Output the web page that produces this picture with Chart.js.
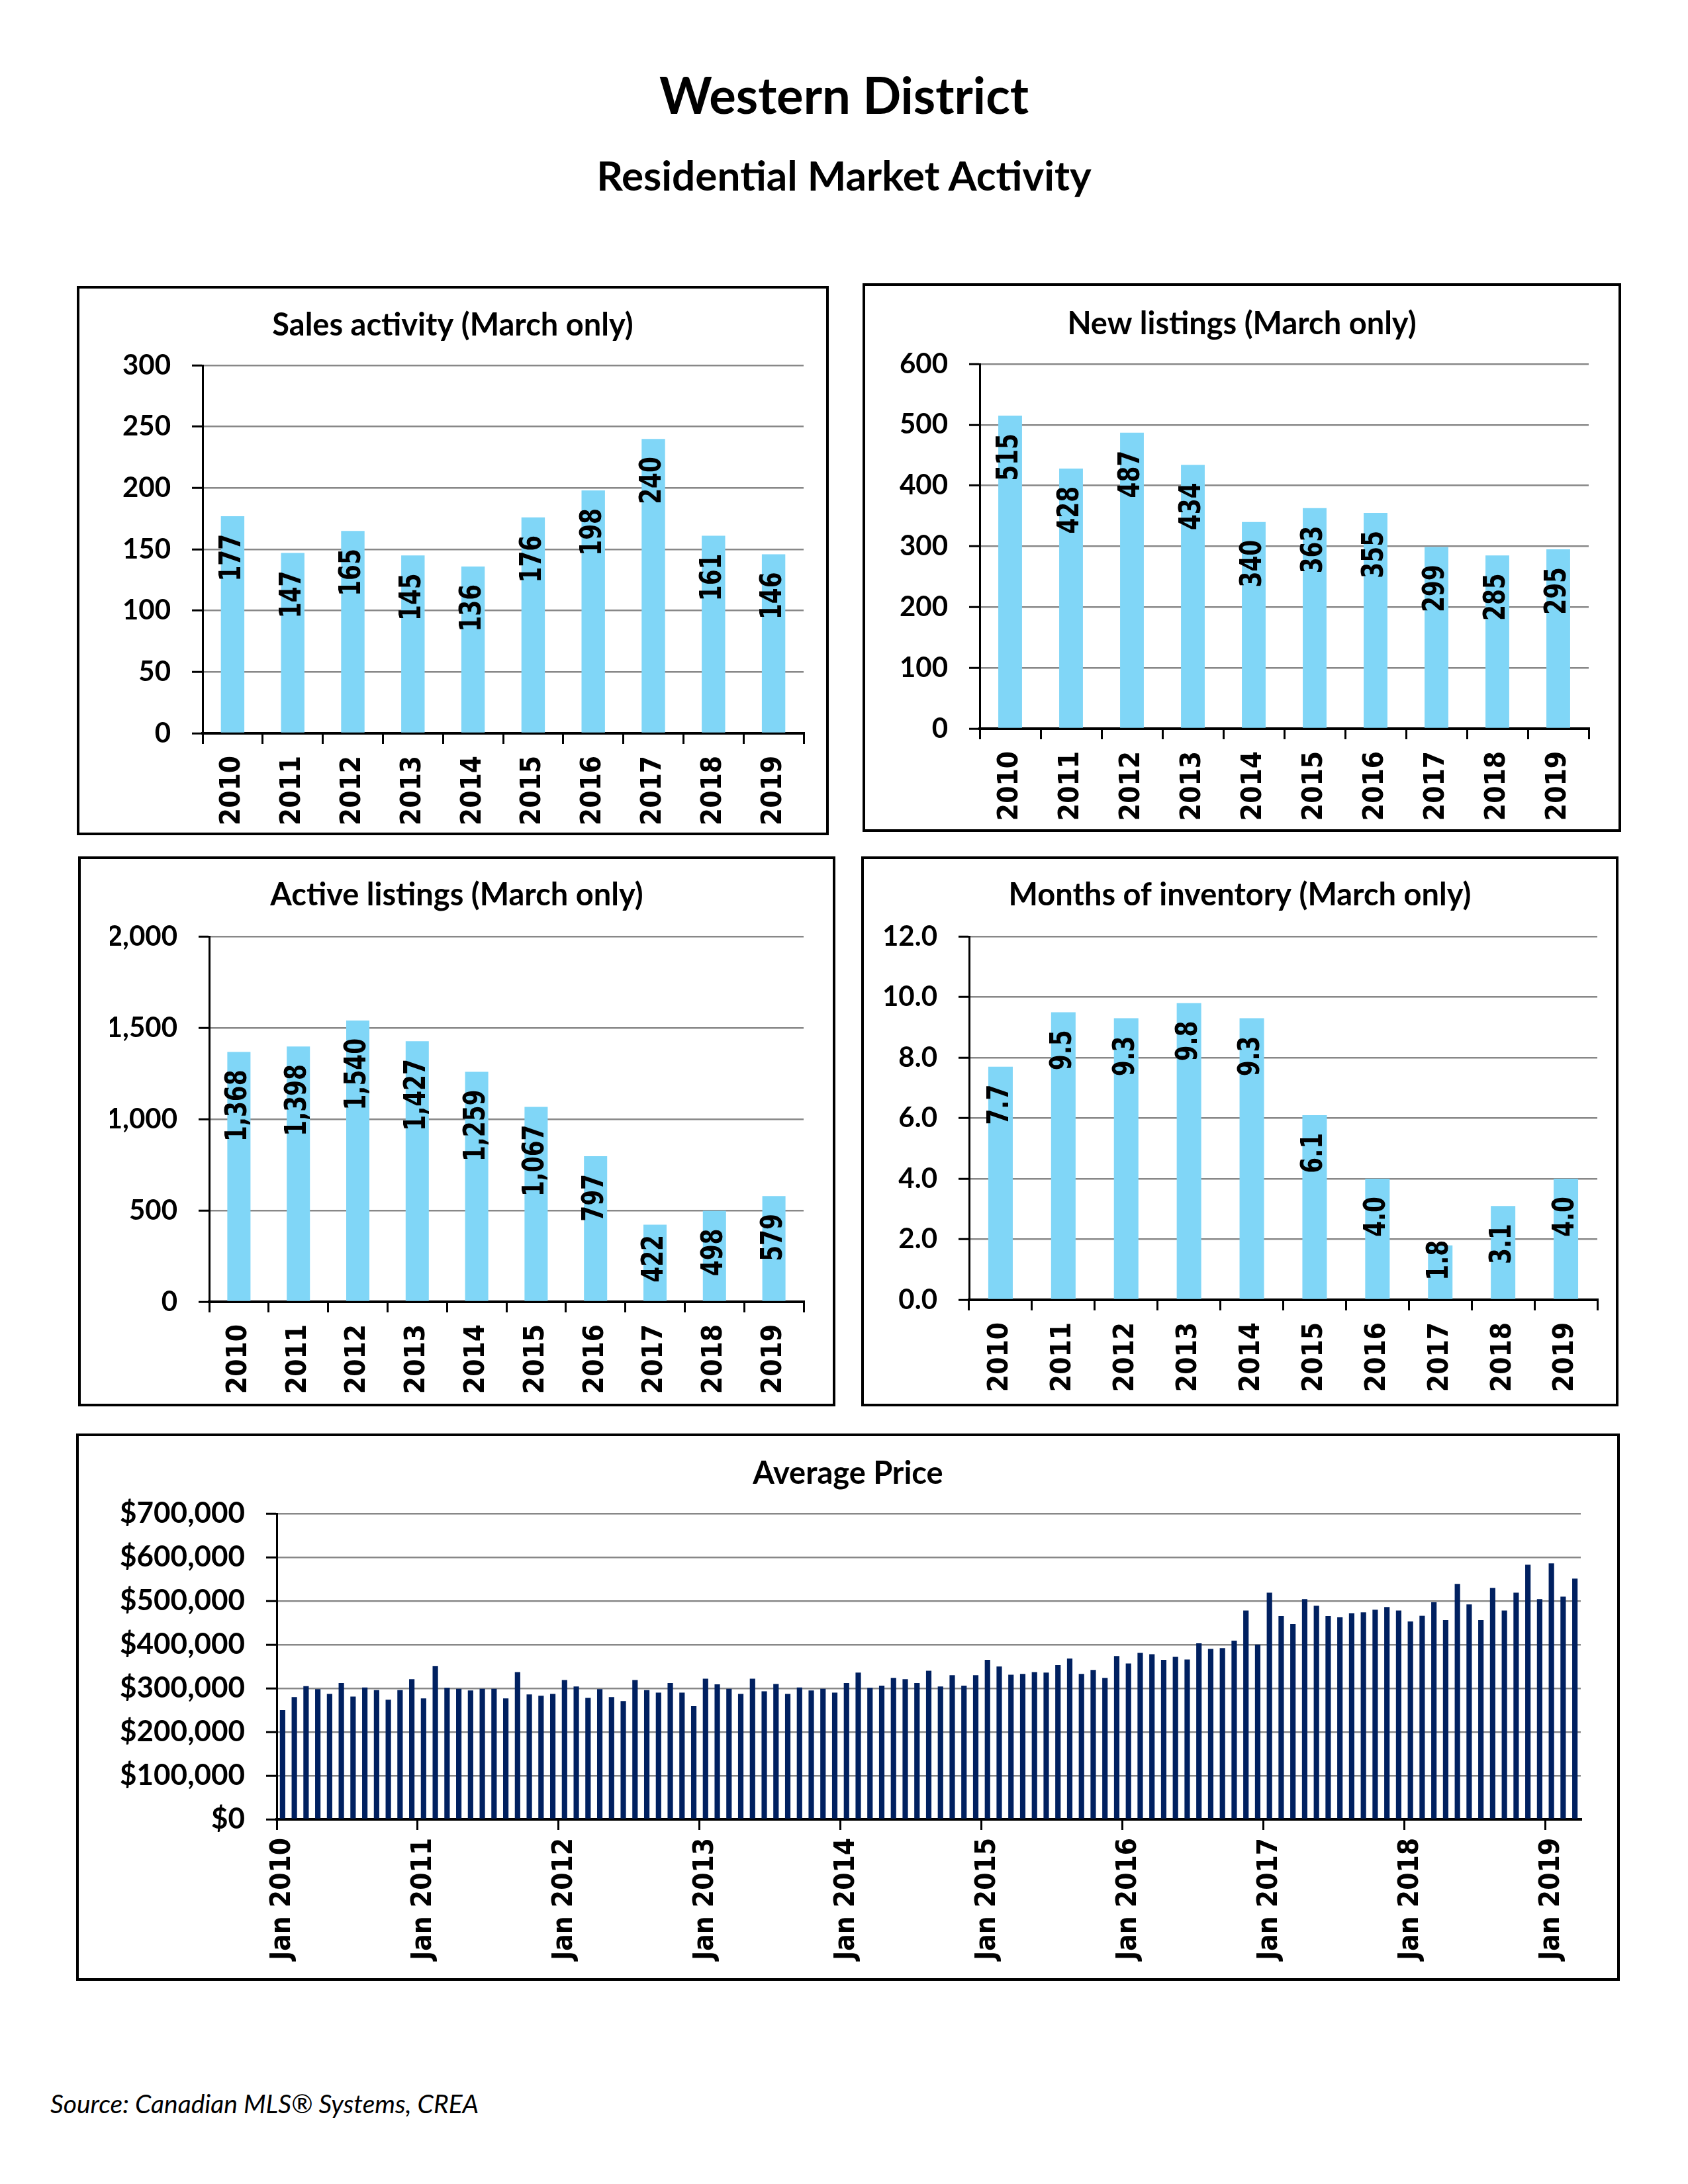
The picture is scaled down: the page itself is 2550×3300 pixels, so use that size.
<!DOCTYPE html>
<html>
<head>
<meta charset="utf-8">
<title>Western District - Residential Market Activity</title>
<script src="https://cdn.jsdelivr.net/npm/chart.js@4.4.1/dist/chart.umd.min.js"></script>
<style>
  html, body { margin: 0; padding: 0; background: #fff; }
  body { width: 2550px; height: 3300px; position: relative; overflow: hidden; font-family: Lato, sans-serif; color: #000; }
  .head { position: absolute; left: 0; width: 2550px; text-align: center; font-weight: 700; line-height: 1.2; }
  .panel { position: absolute; border: 4px solid #000; box-sizing: border-box; background: #fff; }
  .panel canvas { position: absolute; left: 0; top: 0; }
  .source { position: absolute; left: 76px; font-style: italic; font-size: 39px; line-height: 1.2; }
</style>
</head>
<body>
<div class="head" style="top:97px;font-size:76px">Western District</div>
<div class="head" style="top:227px;font-size:62px">Residential Market Activity</div>

<div id="sales" class="panel"></div>
<div id="newListings" class="panel"></div>
<div id="active" class="panel"></div>
<div id="inventory" class="panel"></div>
<div id="price" class="panel"></div>

<div class="source" style="top:3155px">Source: Canadian MLS® Systems, CREA</div>

<script>
// Données (mars seulement)
const years = ['2010', '2011', '2012', '2013', '2014', '2015', '2016', '2017', '2018', '2019'];
const salesActivity = [177, 147, 165, 145, 136, 176, 198, 240, 161, 146];
const newListings = [515, 428, 487, 434, 340, 363, 355, 299, 285, 295];
const activeListings = [1368, 1398, 1540, 1427, 1259, 1067, 797, 422, 498, 579];
const monthsOfInventory = [7.7, 9.5, 9.3, 9.8, 9.3, 6.1, 4.0, 1.8, 3.1, 4.0];

// Prix moyen mensuel, janv. 2010 a mars 2019
const monthNames = ['Jan', 'Feb', 'Mar', 'Apr', 'May', 'Jun', 'Jul', 'Aug', 'Sep', 'Oct', 'Nov', 'Dec'];
const averagePrice = [
  250000, 280000, 305000, 298000, 287000, 312000, 281000, 302000, 296000, 274000, 296000, 321000,
  277000, 351000, 301000, 299000, 295000, 299000, 299000, 277000, 337000, 286000, 283000, 287000,
  319000, 304000, 278000, 298000, 280000, 271000, 319000, 296000, 290000, 312000, 290000, 259000,
  322000, 309000, 299000, 287000, 322000, 293000, 310000, 287000, 302000, 295000, 299000, 290000,
  312000, 336000, 301000, 306000, 324000, 321000, 312000, 340000, 304000, 330000, 306000, 330000,
  365000, 350000, 331000, 333000, 337000, 336000, 353000, 368000, 333000, 342000, 324000, 374000,
  357000, 381000, 378000, 365000, 372000, 366000, 403000, 390000, 392000, 409000, 478000, 400000,
  519000, 465000, 447000, 504000, 489000, 465000, 463000, 472000, 474000, 480000, 486000, 478000,
  453000, 466000, 497000, 456000, 539000, 492000, 456000, 530000, 478000, 519000, 583000, 504000,
  586000, 510000, 551000
];
const priceLabels = [];
years.forEach(y => monthNames.forEach(m => priceLabels.push(m + ' ' + y)));
priceLabels.length = averagePrice.length;

const LIGHT_BLUE = '#80D6F7';
const NAVY = '#002060';
const GRID_GREY = '#888888';
const LABEL_FONT = '"DejaVu Sans Condensed", "DejaVu Sans"';

// Étiquettes de valeur verticales, à l'intérieur du haut de chaque barre
const barLabels = {
  id: 'barLabels',
  afterDraw(chart, args, opts) {
    if (!opts.format) return;
    const ctx = chart.ctx;
    const meta = chart.getDatasetMeta(0);
    const values = chart.data.datasets[0].data;
    const squeeze = 0.78;
    ctx.save();
    ctx.font = 'bold 44px "DejaVu Sans"';
    ctx.fillStyle = '#000';
    ctx.textAlign = 'right';
    ctx.textBaseline = 'middle';
    meta.data.forEach((bar, i) => {
      const text = opts.format(values[i]);
      const w = ctx.measureText(text).width * squeeze;
      const end = Math.min(bar.y + 27, bar.base - 28 - w);
      ctx.save();
      ctx.translate(bar.x, end);
      ctx.rotate(-Math.PI / 2);
      ctx.scale(squeeze, 1);
      ctx.fillText(text, 0, 0);
      ctx.restore();
    });
    ctx.restore();
  }
};

/**
 * Crée un panneau encadré avec un graphique à barres
 * box  : [gauche, haut, droite, bas] du cadre sur la page
 * plot : [gauche, haut, droite, bas] de la zone de tracé sur la page
 */
function makePanel(cfg) {
  const el = document.getElementById(cfg.id);
  const b = 4;
  const [bl, bt, br, bb] = cfg.box;
  el.style.left = bl + 'px';
  el.style.top = bt + 'px';
  el.style.width = (br - bl) + 'px';
  el.style.height = (bb - bt) + 'px';

  const cl = bl + b, ct = bt + b;
  const cw = br - bl - 2 * b, ch = bb - bt - 2 * b;
  const canvas = document.createElement('canvas');
  canvas.width = cw;
  canvas.height = ch;
  canvas.style.width = cw + 'px';
  canvas.style.height = ch + 'px';
  el.appendChild(canvas);

  const [pl, pt, pr, pb] = cfg.plot;
  const side = (cl + cw) - pr;   // même marge à gauche et à droite pour centrer le titre
  const titleSize = 47;
  const lh = titleSize * 1.2;
  const mid = cfg.titleBaseline - 0.36 * titleSize - ct;
  const padTop = mid - lh / 2;
  const padBottom = (pt - ct) - padTop - lh;

  return new Chart(canvas, {
    type: 'bar',
    data: {
      labels: cfg.labels,
      datasets: [{
        data: cfg.values,
        backgroundColor: cfg.color,
        borderWidth: 0,
        barPercentage: cfg.barPct,
        categoryPercentage: 1
      }]
    },
    options: {
      responsive: false,
      animation: false,
      layout: { padding: { left: side, top: 0, right: side, bottom: 0 } },
      plugins: {
        legend: { display: false },
        tooltip: { enabled: false },
        title: {
          display: true,
          text: cfg.title,
          color: '#000',
          font: { family: 'Lato', size: titleSize, weight: 'bold' },
          padding: { top: padTop, bottom: padBottom }
        },
        barLabels: { format: cfg.labelFormat }
      },
      scales: {
        x: {
          z: 1,
          grid: {
            offset: true,
            drawOnChartArea: false,
            tickLength: 16,
            lineWidth: 3,
            tickWidth: 3,
            tickColor: cfg.xTickColor || '#000'
          },
          border: { color: '#000', width: 4 },
          ticks: {
            autoSkip: false,
            minRotation: 90,
            maxRotation: 90,
            padding: cfg.xPad,
            color: '#000',
            font: { family: LABEL_FONT, size: cfg.xFont, weight: 'bold' },
            callback: cfg.xCallback
          },
          afterFit: s => { s.height = (ct + ch) - pb; }
        },
        y: {
          z: cfg.gridOnTop ? 1 : 0,
          min: 0,
          max: cfg.max,
          ticks: {
            stepSize: cfg.step,
            padding: 32,
            color: '#000',
            font: { family: 'Lato', size: cfg.yFont, weight: 'bold' },
            callback: cfg.yFormat
          },
          grid: {
            color: GRID_GREY,
            lineWidth: 2.5,
            tickLength: 16,
            tickWidth: 3,
            tickColor: '#000'
          },
          border: { color: '#000', width: 3 },
          afterFit: s => { s.width = pl - cl - side; }
        }
      }
    },
    plugins: [barLabels]
  });
}

const yearTick = function (value, index) { return years[index]; };
const thousands = v => v.toLocaleString('en-US');

makePanel({
  id: 'sales', box: [116, 432, 1252, 1262], plot: [306, 552, 1214, 1108], titleBaseline: 509,
  title: 'Sales activity (March only)', labels: years, values: salesActivity,
  color: LIGHT_BLUE, barPct: 0.39, max: 300, step: 50, gridOnTop: true,
  xPad: 18, xFont: 42, xCallback: yearTick, yFont: 42,
  yFormat: v => v, labelFormat: v => String(v)
});

makePanel({
  id: 'newListings', box: [1303, 428, 2449, 1257], plot: [1480, 550, 2400, 1101], titleBaseline: 507,
  title: 'New listings (March only)', labels: years, values: newListings,
  color: LIGHT_BLUE, barPct: 0.39, max: 600, step: 100, gridOnTop: true,
  xPad: 18, xFont: 42, xCallback: yearTick, yFont: 42,
  yFormat: v => v, labelFormat: v => String(v)
});

makePanel({
  id: 'active', box: [118, 1294, 1262, 2125], plot: [316, 1415, 1214, 1967], titleBaseline: 1370,
  title: 'Active listings (March only)', labels: years, values: activeListings,
  color: LIGHT_BLUE, barPct: 0.39, max: 2000, step: 500, gridOnTop: true,
  xPad: 18, xFont: 42, xCallback: yearTick, yFont: 42,
  yFormat: thousands, labelFormat: thousands
});

makePanel({
  id: 'inventory', box: [1301, 1294, 2445, 2125], plot: [1464, 1415, 2413, 1964], titleBaseline: 1370,
  title: 'Months of inventory (March only)', labels: years, values: monthsOfInventory,
  color: LIGHT_BLUE, barPct: 0.39, max: 12, step: 2, gridOnTop: true,
  xPad: 18, xFont: 42, xCallback: yearTick, yFont: 42,
  yFormat: v => v.toFixed(1), labelFormat: v => v.toFixed(1)
});

makePanel({
  id: 'price', box: [115, 2166, 2447, 2993], plot: [418, 2287, 2388, 2749], titleBaseline: 2244,
  title: 'Average Price', labels: priceLabels, values: averagePrice,
  color: NAVY, barPct: 0.46, max: 700000, step: 100000, gridOnTop: false,
  xPad: 12, xFont: 42, yFont: 44,
  xCallback: (value, index) => (index % 12 === 0 ? priceLabels[index] : ''),
  xTickColor: ctx => (ctx.index % 12 === 0 ? '#000' : 'rgba(0,0,0,0)'),
  yFormat: v => '$' + v.toLocaleString('en-US'), labelFormat: null
});
</script>
</body>
</html>
